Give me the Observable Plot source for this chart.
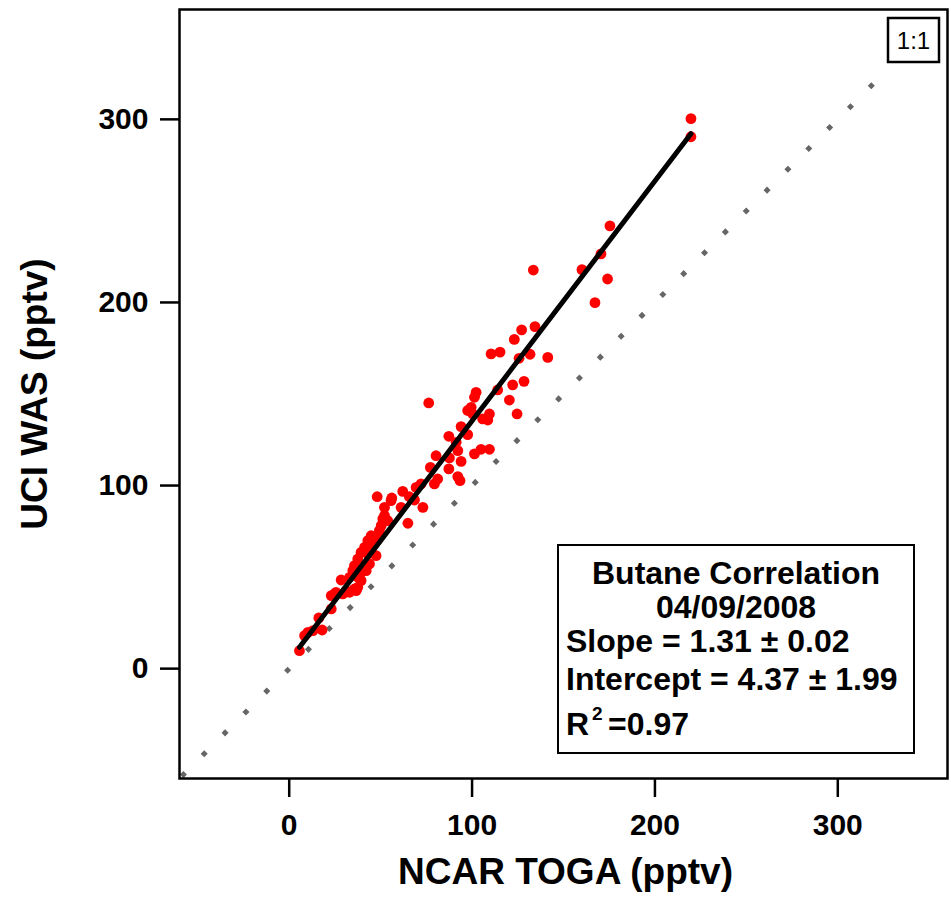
<!DOCTYPE html>
<html>
<head>
<meta charset="utf-8">
<script src="https://cdn.jsdelivr.net/npm/d3@7"></script>
<script src="https://cdn.jsdelivr.net/npm/@observablehq/plot@0.6"></script>
<style>
  html, body { margin: 0; padding: 0; background: white; }
  #chart { width: 951px; height: 901px; }
</style>
</head>
<body>
<div id="chart"></div>
<script>
// NCAR TOGA butane (pptv) vs UCI WAS butane (pptv)
const ncarToga = [
  5.6, 8.4, 10.2, 13, 18, 16.2, 23, 23, 24.8, 29.3, 31.1, 33, 36.6, 37.5, 28.4,
  37.5, 39.3, 34.8, 35.7, 37.5, 42.1, 43.9, 39.3, 41.2, 47.5, 43, 44.8, 49.3, 50.3,
  52.1, 53.9, 64.9, 61.2, 48.1, 56.1, 62.1, 65.7, 68.5, 73.1, 69.4, 72.1, 79.4,
  81.2, 77.2, 87.3, 92.2, 93.4, 80.3, 87.6, 94, 92.2, 91.3, 87.3, 97.6, 94,
  101.3, 104.9, 109.5, 100.4, 97.6, 99.5, 101.3, 102.2, 105.8, 108.6, 109.5, 76.3,
  114, 120.4, 124.6, 122.2, 128.4, 110.4, 115.3, 125.7, 131.7, 141.4, 123.1, 127.1,
  134.4, 133.5, 160.1, 167.2, 174.1, 170.5, 175.4, 219.7, 219.7,
  46.6, 35.7, 39.3, 25.6, 35.7, 33, 43, 44.8, 48.5, 52.1, 55.7, 51.2
];
const uciWas = [
  9.8, 18, 19.8, 20.8, 21.1, 27.7, 32.6, 39.9, 40.8, 40.8, 42.6, 41.7, 42.6, 44.4, 48.4,
  49.9, 48.1, 53.5, 56.3, 59.9, 53.5, 57.2, 63.5, 66.2, 61.7, 69.9, 72.6, 75.4, 78.1,
  83.6, 80.8, 79.4, 88.1, 93.9, 93.2, 96.8, 93.9, 92.1, 88.1, 99, 100.9, 100.9,
  103.6, 109.9, 109.1, 104.9, 102.7, 116.3, 115.1, 113.2, 119.1, 123.6, 126.9, 127.8, 132.2,
  117.3, 119.8, 119.8, 139.1, 141, 142.7, 148.2, 150.9, 136.4, 135.8, 139.1, 145.1,
  152.2, 146.7, 139.1, 155, 156.9, 171.9, 172.9, 169.5, 171.7, 170, 179.8, 185,
  186.8, 217.7, 217.9, 199.9, 212.8, 226.5, 241.8, 290.5, 300.4,
  68.1, 54.4, 52.6, 41.7, 43.5, 49.9, 62.6, 64.4, 71.7, 88.1, 91.8, 81.8
];
const fitSlope = 1.31;
const fitIntercept = 4.37;
const oneToOne = [-60, 328];
const axisDomain = [-60, 360];
const xTicks = [0, 100, 200, 300];
const yTicks = [0, 100, 200, 300];
const xTitle = "NCAR TOGA (pptv)";
const yTitle = "UCI WAS (pptv)";
const legendLines = ["Butane Correlation", "04/09/2008", "Slope = 1.31 \u00b1 0.02", "Intercept = 4.37 \u00b1 1.99"];
const r2Text = "=0.97";
const refLabel = "1:1";

const points = ncarToga.map((x, i) => ({x, y: uciWas[i]}));
const fitLine = d3.extent(ncarToga).map(x => ({x, y: fitSlope * x + fitIntercept}));

const font = "'Liberation Sans', Arial, Helvetica, sans-serif";

const chart = Plot.plot({
  width: 951,
  height: 901,
  marginLeft: 179,
  marginRight: 4,
  marginTop: 9,
  marginBottom: 123,
  x: {domain: axisDomain},
  y: {domain: axisDomain},
  style: {fontFamily: font, background: "white", color: "black", overflow: "visible"},
  marks: [
    Plot.line(oneToOne, {x: d => d, y: d => d, stroke: "#666666", strokeWidth: 5,
      strokeDasharray: "5,24.5", strokeDashoffset: -3, strokeLinecap: "butt"}),
    Plot.dot(points, {x: "x", y: "y", r: 5.4, fill: "#ff0000", stroke: null}),
    Plot.line(fitLine, {x: "x", y: "y", stroke: "black", strokeWidth: 5}),
    Plot.frame({stroke: "black", strokeWidth: 2.5}),
    Plot.axisX({ticks: xTicks, tickSize: 19, tickPadding: 16, fontSize: 30, fontWeight: "bold",
      strokeWidth: 2.5, label: null, tickFormat: d => String(d)}),
    Plot.axisY({ticks: yTicks, tickSize: 19, tickPadding: 12, fontSize: 30, fontWeight: "bold",
      strokeWidth: 2.5, label: null, tickFormat: d => String(d)}),
    Plot.text([xTitle], {text: d => d, frameAnchor: "bottom", dy: 94, dx: 2, lineAnchor: "middle",
      textAnchor: "middle", fontSize: 37, fontWeight: "bold"}),
    Plot.text([yTitle], {text: d => d, frameAnchor: "left", rotate: -90, dx: -144, lineAnchor: "middle",
      textAnchor: "middle", fontSize: 37, fontWeight: "bold"})
  ]
});

document.getElementById("chart").appendChild(chart);

// annotations: legend box and 1:1 tag
const svg = d3.select(chart);
const lg = svg.append("g").attr("font-family", font).attr("font-weight", "bold")
  .attr("font-size", 32).attr("fill", "black").attr("text-anchor", "start");
lg.append("rect").attr("x", 558).attr("y", 545).attr("width", 356).attr("height", 208)
  .attr("fill", "white").attr("stroke", "black").attr("stroke-width", 2);
lg.append("text").attr("x", 736).attr("y", 584).attr("text-anchor", "middle").text(legendLines[0]);
lg.append("text").attr("x", 736).attr("y", 618).attr("text-anchor", "middle").text(legendLines[1]);
lg.append("text").attr("x", 566).attr("y", 652).text(legendLines[2]);
lg.append("text").attr("x", 566).attr("y", 690).text(legendLines[3]);
const r2 = lg.append("text").attr("x", 566).attr("y", 735);
r2.append("tspan").text("R");
r2.append("tspan").attr("x", 592).attr("font-size", 19).attr("dy", -15).text("2");
r2.append("tspan").attr("x", 608).attr("dy", 15).text(r2Text);

const tag = svg.append("g").attr("font-family", font).attr("text-anchor", "middle");
tag.append("rect").attr("x", 888).attr("y", 18).attr("width", 51).attr("height", 44)
  .attr("fill", "white").attr("stroke", "black").attr("stroke-width", 2.5);
tag.append("text").attr("x", 913.5).attr("y", 48.5).attr("font-size", 24).text(refLabel);
</script>
</body>
</html>
